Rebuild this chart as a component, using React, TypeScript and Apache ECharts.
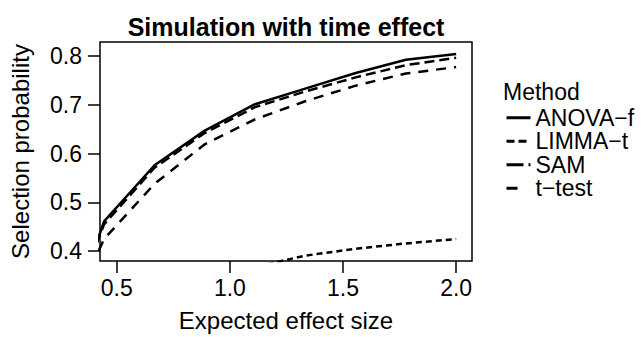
import React, { useEffect, useRef } from "react";
import * as echarts from "echarts";

const effectSizes = [0.222, 0.444, 0.667, 0.889, 1.111, 1.333, 1.556, 1.778, 2.0];
const anovaF = [0.165, 0.461, 0.576, 0.647, 0.701, 0.733, 0.765, 0.792, 0.804];
const limmaT = [0.12, 0.21, 0.28, 0.33, 0.368, 0.391, 0.405, 0.416, 0.425];
const sam = [0.185, 0.455, 0.571, 0.642, 0.695, 0.727, 0.756, 0.781, 0.796];
const tTest = [0.2, 0.425, 0.538, 0.619, 0.67, 0.707, 0.739, 0.764, 0.777];

const methods = ["ANOVA\u2212f", "LIMMA\u2212t", "SAM", "t\u2212test"];
const xTicks = [0.5, 1.0, 1.5, 2.0];
const yTicks = [0.4, 0.5, 0.6, 0.7, 0.8];

const FONT = "Liberation Sans, Arial, Helvetica, sans-serif";

export default function App() {
  const ref = useRef<HTMLDivElement>(null);
  useEffect(() => {
    if (!ref.current) return;
    const chart = echarts.init(ref.current, undefined, { renderer: "svg" });
    const dashes: any[] = ["solid", [6, 4], [10, 5], [10, 8]];
    const legendDashes: any[] = ["solid", [8, 4], [17, 5], [11, 20]];
    const seriesData = [anovaF, limmaT, sam, tTest];
    chart.setOption({
      animation: false,
      backgroundColor: "#fff",
      textStyle: { fontFamily: FONT },
      title: [
        {
          text: "Simulation with time effect",
          left: 286,
          top: 14,
          textAlign: "center",
          padding: 0,
          textStyle: { fontSize: 25, fontWeight: "bold", color: "#000", fontFamily: FONT },
        },
        {
          text: "Method",
          left: 503,
          top: 80,
          padding: 0,
          textStyle: { fontSize: 23, fontWeight: "normal", color: "#000", fontFamily: FONT },
        },
      ],
      legend: {
        orient: "vertical",
        left: 505,
        top: 106,
        padding: 0,
        itemWidth: 24,
        itemHeight: 14,
        itemGap: 0,
        textStyle: { fontSize: 23, color: "#000", lineHeight: 23.5, fontFamily: FONT },
        data: methods.map((m, i) => ({
          name: m,
          lineStyle: { type: legendDashes[i], width: 3, color: "#000" },
          itemStyle: { color: "rgba(0,0,0,0)", borderWidth: 0, opacity: 0 },
        })),
      },
      grid: {
        left: 100,
        top: 42,
        width: 372,
        height: 221,
        show: true,
        borderColor: "#000",
        borderWidth: 1.5,
        backgroundColor: "transparent",
      },
      xAxis: {
        type: "value",
        min: 0.426,
        max: 2.07,
        name: "Expected effect size",
        nameLocation: "middle",
        nameGap: 47,
        nameTextStyle: { fontSize: 24, color: "#000", fontFamily: FONT },
        axisLine: { show: false },
        splitLine: { show: false },
        axisTick: {
          show: true,
          length: 12,
          lineStyle: { color: "#000", width: 1.5 },
          customValues: xTicks,
        },
        axisLabel: {
          fontSize: 23,
          color: "#000",
          margin: 15,
          fontFamily: FONT,
          customValues: xTicks,
          formatter: (v: number) => v.toFixed(1),
        },
      },
      yAxis: {
        type: "value",
        min: 0.38,
        max: 0.8284,
        name: "Selection probability",
        nameLocation: "middle",
        nameGap: 68,
        nameTextStyle: { fontSize: 24, color: "#000", fontFamily: FONT },
        axisLine: { show: false },
        splitLine: { show: false },
        axisTick: {
          show: true,
          length: 12,
          lineStyle: { color: "#000", width: 1.5 },
          customValues: yTicks,
        },
        axisLabel: {
          fontSize: 23,
          color: "#000",
          margin: 18,
          fontFamily: FONT,
          customValues: yTicks,
          formatter: (v: number) => v.toFixed(1),
        },
      },
      series: methods.map((m, i) => ({
        name: m,
        type: "line",
        symbol: "none",
        clip: true,
        data: effectSizes.map((x, j) => [x, seriesData[i][j]]),
        lineStyle: { color: "#000", width: 2.5, type: dashes[i], cap: "butt" },
        itemStyle: { color: "#000" },
      })),
    });
    return () => chart.dispose();
  }, []);
  return (
    <div
      ref={ref}
      style={{ position: "fixed", left: 0, top: 0, width: 643, height: 337, background: "#fff" }}
    />
  );
}
